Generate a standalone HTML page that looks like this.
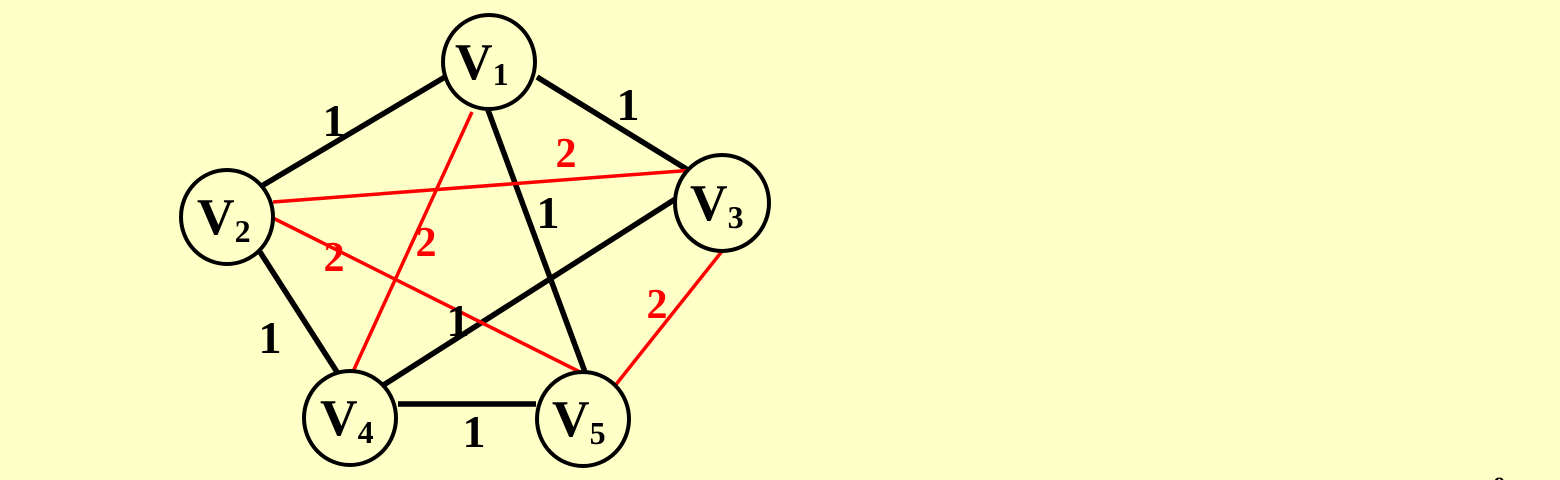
<!DOCTYPE html>
<html><head><meta charset="utf-8"><style>
html,body{margin:0;padding:0;background:#ffffc8;}
svg{display:block}
text{font-family:"Liberation Serif",serif;font-weight:bold}
</style></head><body>
<svg width="1560" height="480" viewBox="0 0 1560 480">
<rect width="1560" height="480" fill="#ffffc8"/>
<g stroke="#000" stroke-width="5.5" stroke-linecap="butt">
<line x1="445" y1="77" x2="260" y2="187"/>
<line x1="537" y1="77" x2="688" y2="170"/>
<line x1="488" y1="110" x2="585" y2="372"/>
<line x1="260" y1="252" x2="337" y2="372"/>
<line x1="677" y1="198" x2="382" y2="386"/>
<line x1="398" y1="404" x2="536" y2="404"/>
</g>
<g stroke="#ff0000" stroke-width="3.5">
<line x1="472" y1="112" x2="351" y2="376"/>
<line x1="273" y1="202" x2="694" y2="170"/>
<line x1="273" y1="218" x2="586" y2="375"/>
<line x1="723" y1="250" x2="614" y2="387"/>
</g>
<g fill="#ffffc8" stroke="#000" stroke-width="4">
<ellipse cx="489" cy="62" rx="46" ry="47"/>
<ellipse cx="227" cy="217" rx="46" ry="47"/>
<ellipse cx="722" cy="203" rx="47" ry="48"/>
<ellipse cx="350" cy="418" rx="46" ry="47"/>
<ellipse cx="583" cy="419" rx="46" ry="47"/>
</g>
<g fill="#000">
<text x="455" y="79" font-size="52">V<tspan font-size="32" dy="6">1</tspan></text>
<text x="197" y="234" font-size="52">V<tspan font-size="32" dy="8">2</tspan></text>
<text x="690" y="220" font-size="52">V<tspan font-size="32" dy="8">3</tspan></text>
<text x="320" y="435" font-size="52">V<tspan font-size="32" dy="8">4</tspan></text>
<text x="552" y="436" font-size="52">V<tspan font-size="32" dy="8">5</tspan></text>
</g>
<g fill="#000" font-size="46" text-anchor="middle">
<text x="334" y="136">1</text>
<text x="628" y="120">1</text>
<text x="548" y="228">1</text>
<text x="270" y="353">1</text>
<text x="458" y="336">1</text>
<text x="474" y="447">1</text>
</g>
<g fill="#ff0000" font-size="42" text-anchor="middle">
<text x="566" y="167">2</text>
<text x="426" y="256">2</text>
<text x="334" y="271">2</text>
<text x="657" y="318">2</text>
</g>
<text x="1494" y="492" font-size="22" fill="#000" font-weight="normal">9</text>
</svg>
</body></html>
